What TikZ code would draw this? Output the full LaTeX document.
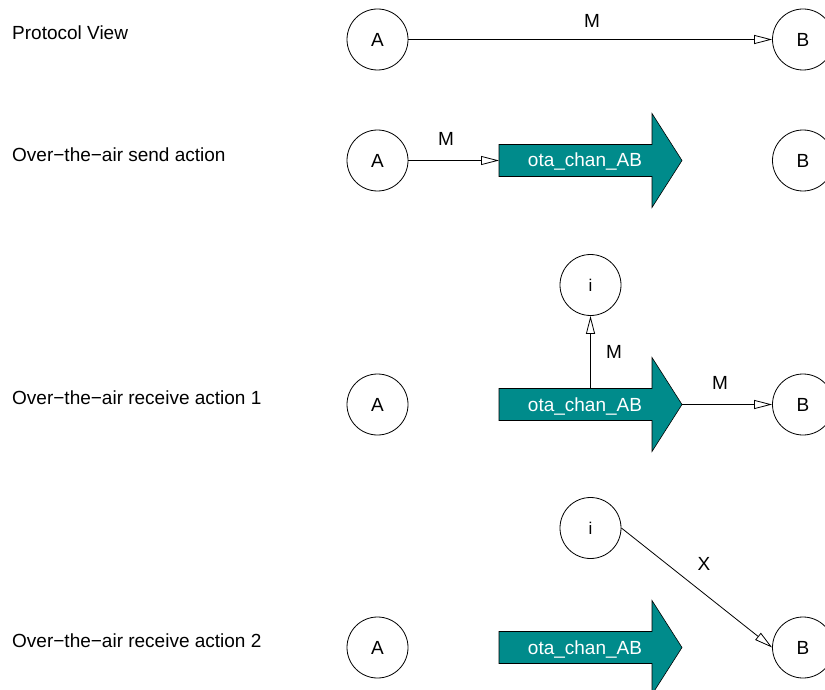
\documentclass[tikz,border=0pt]{standalone}
\usepackage{fontspec}
\setmainfont{Liberation Sans}
\usetikzlibrary{arrows.meta}
\definecolor{chancol}{RGB}{0,139,139}
\begin{document}
\begin{tikzpicture}[x=1pt,y=-1pt,
  state/.style={draw, circle, minimum size=61pt, inner sep=0pt, line width=0.8pt, font=\fontsize{19}{22}\selectfont},
  istate/.style={state, font=\fontsize{17}{20}\selectfont},
  lbl/.style={font=\fontsize{19}{22}\selectfont, anchor=base west, inner sep=0pt},
  msg/.style={font=\fontsize{19}{22}\selectfont, inner sep=0pt},
  conn/.style={draw, line width=0.8pt, -{Triangle[length=18pt,width=9pt,fill=white]}},
  chanbody/.style={fill=chancol, draw=black, line width=0.6pt},
  chantext/.style={text=white, font=\fontsize{19}{22}\selectfont, inner sep=0pt, anchor=base},
  chanarrow/.pic={\draw[chanbody] (-91,-16) -- (62,-16) -- (62,-47) -- (92,0) -- (62,47) -- (62,16) -- (-91,16) -- cycle;}
]
\useasboundingbox (0,0) rectangle (825,690);
\clip (0,0) rectangle (825,690);

% left labels
\node[lbl] (l1) at (12,40) {Protocol View};
\node[lbl] (l2) at (12,162) {Over−the−air send action};
\node[lbl] (l3) at (12,404) {Over−the−air receive action 1};
\node[lbl] (l4) at (12,647) {Over−the−air receive action 2};

% row 1
\node[state] (A1) at (377.5,39.5) {A};
\node[state] (B1) at (803,39.5) {B};
\draw[conn] (A1) -- (B1);
\node[msg] (m1) at (592,21) {M};

% row 2
\node[state] (A2) at (377.5,160.5) {A};
\node[state] (B2) at (803,160.5) {B};
\pic at (590,160.5) {chanarrow};
\node[chantext] (c2) at (585,167) {ota\_chan\_AB};
\coordinate (tail2) at (499,160.5);
\draw[conn] (A2) -- (tail2);
\node[msg] (m2) at (446,138.5) {M};

% row 3
\node[state] (A3) at (377.5,404.5) {A};
\node[state] (B3) at (803,404.5) {B};
\node[istate] (i3) at (590.5,285) {i};
\pic at (590,404.5) {chanarrow};
\node[chantext] (c3) at (585,411) {ota\_chan\_AB};
\coordinate (top3) at (590.5,388.5);
\coordinate (tip3) at (682,404.5);
\draw[conn] (top3) -- (i3);
\draw[conn] (tip3) -- (B3);
\node[msg] (m3a) at (614,352) {M};
\node[msg] (m3b) at (720,383) {M};

% row 4
\node[state] (A4) at (377.5,647.5) {A};
\node[state] (B4) at (803,647.5) {B};
\node[istate] (i4) at (590.5,528) {i};
\pic at (590,647.5) {chanarrow};
\node[chantext] (c4) at (585,654) {ota\_chan\_AB};
\draw[conn] (i4.east) -- (B4.west);
\node[msg] (x4) at (704,564) {X};
\end{tikzpicture}
\end{document}
